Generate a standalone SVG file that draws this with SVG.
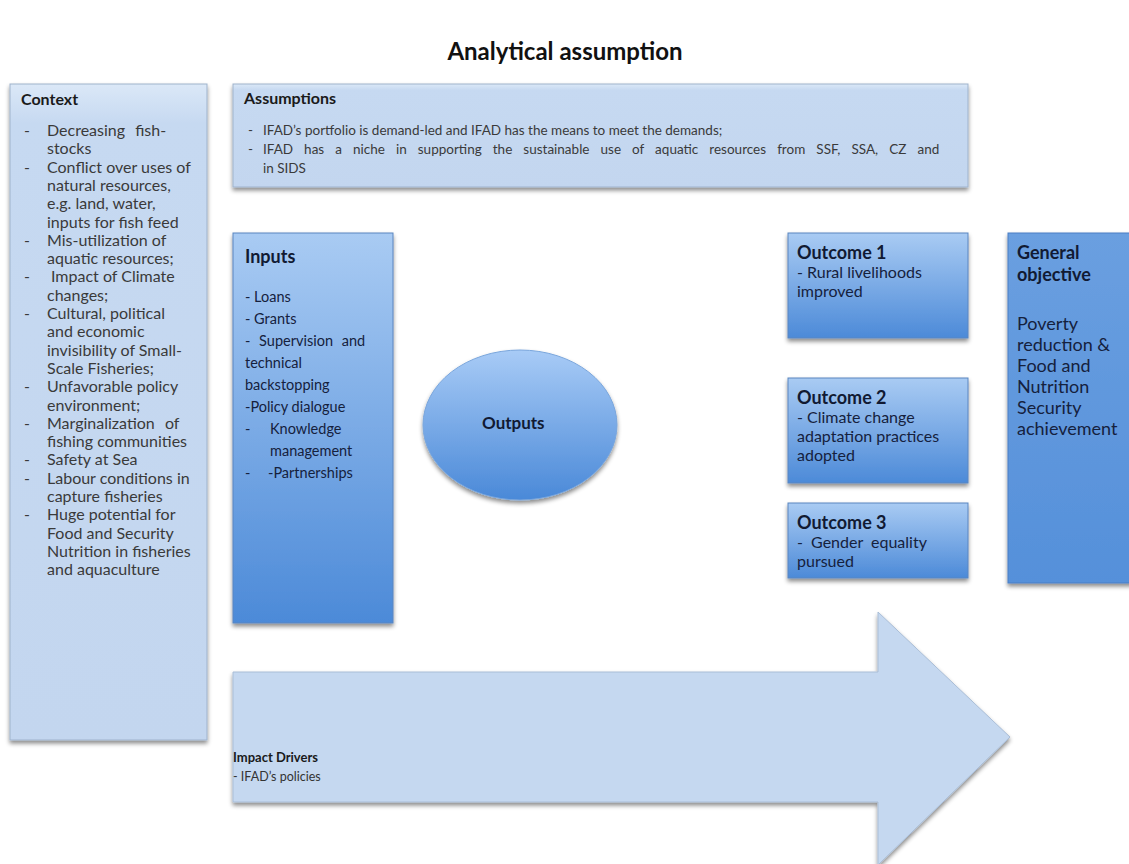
<svg xmlns="http://www.w3.org/2000/svg" width="1129" height="864" viewBox="0 0 1129 864">
<style>
text{font-family:Lato,"Liberation Sans",sans-serif;}
.h{font-weight:bold;fill:#1a1a1a;}
.t{font-size:16px;fill:#3a3a3a;}
.ta{font-size:13.5px;fill:#3a3a3a;}
.tn{fill:#15213d;}
.hn{font-weight:bold;font-size:18px;fill:#111a33;}
.ti{font-size:14.5px;}
.to{font-size:16px;}
.light{fill:url(#gLight);stroke:#9fb3cc;stroke-width:1;}
.dark{fill:url(#gDark);stroke:#5a86c0;stroke-width:1;}
</style>
<defs>
<linearGradient id="gLight" x1="0" y1="0" x2="0" y2="1">
<stop offset="0" stop-color="#dbe8f7"/><stop offset="0.06" stop-color="#c6d9f1"/><stop offset="1" stop-color="#c3d6ef"/>
</linearGradient>
<linearGradient id="gDark" x1="0" y1="0" x2="0" y2="1">
<stop offset="0" stop-color="#a9cbf3"/><stop offset="1" stop-color="#4c8ad8"/>
</linearGradient>
<linearGradient id="gObj" x1="0" y1="0" x2="0" y2="1">
<stop offset="0" stop-color="#6a9fe0"/><stop offset="1" stop-color="#5590da"/>
</linearGradient>
<linearGradient id="gEll" x1="0" y1="0" x2="0" y2="1">
<stop offset="0" stop-color="#a8cbf6"/><stop offset="1" stop-color="#4a89d8"/>
</linearGradient>
<filter id="sh" x="-10%" y="-10%" width="120%" height="125%">
<feDropShadow dx="0" dy="3" stdDeviation="2" flood-color="#000" flood-opacity="0.45"/>
</filter>
</defs>
<rect width="1129" height="864" fill="#fff"/>
<text x="565" y="60" text-anchor="middle" style="font-weight:bold;font-size:24px;fill:#111;">Analytical assumption</text>

<g id="context">
<rect class="light" x="10" y="84" width="197" height="656" filter="url(#sh)"/>
<text class="h" x="21" y="105" style="font-size:16px">Context</text>
<g class="t">
<text x="24" y="136">-</text><text x="47" y="136" word-spacing="6">Decreasing fish-</text>
<text x="47" y="154.3">stocks</text>
<text x="24" y="172.6">-</text><text x="47" y="172.6">Conflict over uses of</text>
<text x="47" y="190.9">natural resources,</text>
<text x="47" y="209.2">e.g. land, water,</text>
<text x="47" y="227.5">inputs for fish feed</text>
<text x="24" y="245.8">-</text><text x="47" y="245.8">Mis-utilization of</text>
<text x="47" y="264.1">aquatic resources;</text>
<text x="24" y="282.4">-</text><text x="51" y="282.4">Impact of Climate</text>
<text x="47" y="300.7">changes;</text>
<text x="24" y="319">-</text><text x="47" y="319">Cultural, political</text>
<text x="47" y="337.3">and economic</text>
<text x="47" y="355.6">invisibility of Small-</text>
<text x="47" y="373.9">Scale Fisheries;</text>
<text x="24" y="392.2">-</text><text x="47" y="392.2">Unfavorable policy</text>
<text x="47" y="410.5">environment;</text>
<text x="24" y="428.8">-</text><text x="47" y="428.8" word-spacing="6">Marginalization of</text>
<text x="47" y="447.1">fishing communities</text>
<text x="24" y="465.4">-</text><text x="47" y="465.4">Safety at Sea</text>
<text x="24" y="483.7">-</text><text x="47" y="483.7">Labour conditions in</text>
<text x="47" y="502">capture fisheries</text>
<text x="24" y="520.3">-</text><text x="47" y="520.3">Huge potential for</text>
<text x="47" y="538.6">Food and Security</text>
<text x="47" y="556.9">Nutrition in fisheries</text>
<text x="47" y="575.2">and aquaculture</text>
</g>
</g>

<g id="assumptions">
<rect class="light" x="233" y="84" width="735" height="103" filter="url(#sh)"/>
<text class="h" x="244" y="104" style="font-size:16px">Assumptions</text>
<g class="ta">
<text x="248" y="135">-</text><text x="263" y="135">IFAD’s portfolio is demand-led  and IFAD has the means to meet the demands;</text>
<text x="248" y="154">-</text><text x="263" y="154" word-spacing="7.6">IFAD has a niche in supporting the sustainable use of aquatic resources from SSF, SSA, CZ and</text>
<text x="263" y="173">in SIDS</text>
</g>
</g>

<g id="inputs">
<rect class="dark" x="233" y="233" width="160" height="390" filter="url(#sh)"/>
<text class="hn" x="245" y="263">Inputs</text>
<g class="tn ti">
<text x="245" y="302">- Loans</text>
<text x="245" y="324">- Grants</text>
<text x="245" y="346" word-spacing="5">- Supervision and</text>
<text x="245" y="368">technical</text>
<text x="245" y="390">backstopping</text>
<text x="245" y="412">-Policy dialogue</text>
<text x="245" y="434">-</text><text x="270" y="434">Knowledge</text>
<text x="270" y="456">management</text>
<text x="245" y="478">-</text><text x="268" y="478">-Partnerships</text>
</g>
</g>

<g id="outputs">
<ellipse cx="520" cy="425" rx="97" ry="75" fill="url(#gEll)" stroke="#7aa6dc" stroke-width="1" filter="url(#sh)"/>
<text class="hn" x="482" y="429" style="font-size:17px">Outputs</text>
</g>

<g id="outcome1">
<rect class="dark" x="788" y="233" width="180" height="105" filter="url(#sh)"/>
<text class="hn" x="797" y="259">Outcome 1</text>
<text class="tn to" x="797" y="278">- Rural livelihoods</text>
<text class="tn to" x="797" y="297">improved</text>
</g>

<g id="outcome2">
<rect class="dark" x="788" y="378" width="180" height="105" filter="url(#sh)"/>
<text class="hn" x="797" y="404">Outcome 2</text>
<text class="tn to" x="797" y="423">- Climate change</text>
<text class="tn to" x="797" y="442">adaptation practices</text>
<text class="tn to" x="797" y="461">adopted</text>
</g>

<g id="outcome3">
<rect class="dark" x="788" y="503" width="180" height="75" filter="url(#sh)"/>
<text class="hn" x="797" y="529">Outcome 3</text>
<text class="tn to" x="797" y="548" word-spacing="4">- Gender equality</text>
<text class="tn to" x="797" y="567">pursued</text>
</g>

<g id="general-objective">
<rect x="1008" y="233" width="130" height="350" fill="url(#gObj)" stroke="#4a7fc4" stroke-width="1" filter="url(#sh)"/>
<text class="hn" x="1017" y="259">General</text>
<text class="hn" x="1017" y="281">objective</text>
<g class="tn" style="font-size:18px">
<text x="1017" y="330">Poverty</text>
<text x="1017" y="351">reduction &amp;</text>
<text x="1017" y="372">Food and</text>
<text x="1017" y="393">Nutrition</text>
<text x="1017" y="414">Security</text>
<text x="1017" y="435">achievement</text>
</g>
</g>

<g id="impact-drivers">
<path d="M233,672 H878 V612 L1010,737 L878,865 V802 H233 Z" fill="#c5d8f0" stroke="#a9bdd6" stroke-width="1" filter="url(#sh)"/>
<text x="233" y="762" style="font-weight:bold;font-size:13px;fill:#1a1a1a;">Impact Drivers</text>
<text x="233" y="781" style="font-size:12.5px;fill:#333;">- IFAD’s policies</text>
</g>

<g id="connectors"></g>
</svg>
